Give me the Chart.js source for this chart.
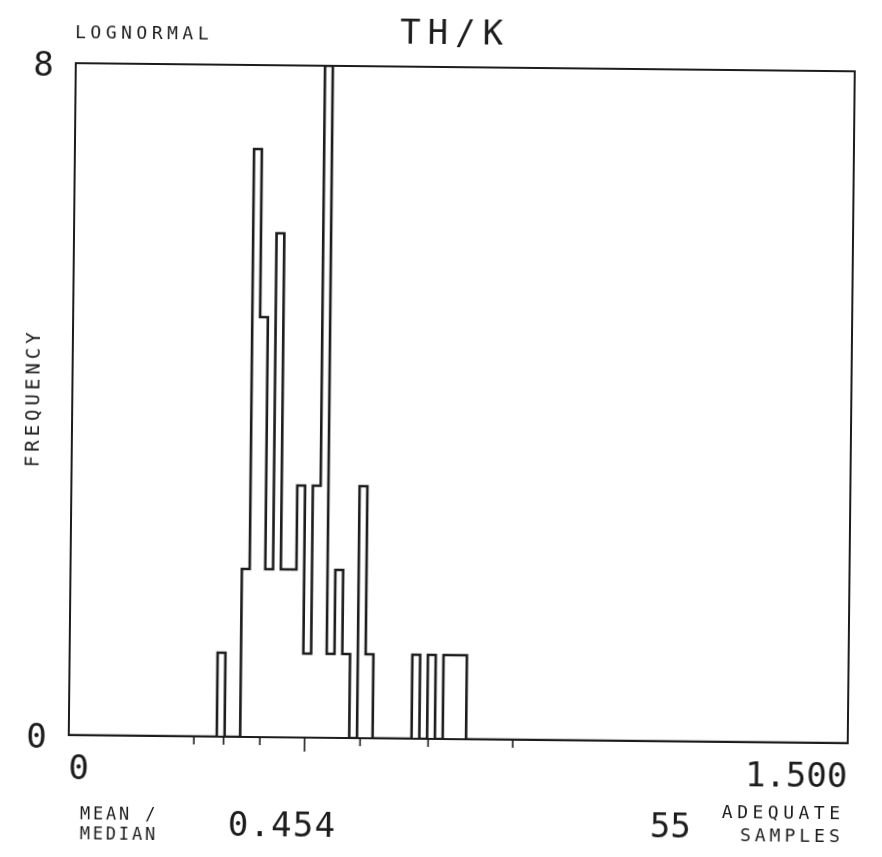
<!DOCTYPE html>
<html>
<head>
<meta charset="utf-8">
<script src="https://cdn.jsdelivr.net/npm/chart.js@4.4.1/dist/chart.umd.min.js"></script>
<style>
  html, body { margin: 0; padding: 0; background: #ffffff; overflow: hidden; }
  #wrap { position: absolute; left: 0; top: 0; width: 882px; height: 857px; transform: rotate(0.6deg); transform-origin: 50% 50%; background: #ffffff; }
  canvas { display: block; }
</style>
</head>
<body>
<div id="wrap"><canvas id="chart" width="882" height="857"></canvas></div>
<script>
// ---------------- data ----------------
const titleText = 'TH/K';
const distributionLabel = 'LOGNORMAL';
const yAxisLabel = 'FREQUENCY';
const statLabel = ['MEAN /', 'MEDIAN'];
const statValue = '0.454';
const sampleCount = 55;
const sampleLabel = ['ADEQUATE', 'SAMPLES'];

const xRange = [0, 1.5];
const xTickValues = [0, 1.5];
const xTickLabels = ['0', '1.500'];
const yRange = [0, 8];
const yTickValues = [0, 8];

const binWidth = 0.015;
// lower edge of each non-empty bin
const binStart = [0.285, 0.330, 0.345, 0.360, 0.375, 0.390, 0.405, 0.420, 0.435, 0.450, 0.465,
                  0.480, 0.495, 0.510, 0.525, 0.555, 0.570, 0.660, 0.690, 0.720, 0.735, 0.750];
// number of samples in each of those bins
const binFrequency = [1, 2, 7, 5, 2, 6, 2, 2, 3, 1, 3,
                      8, 1, 2, 1, 3, 1, 1, 1, 1, 1, 1];

// marks under the x axis: mean/median times powers of the geometric spread
const meanMedian = 0.454;
const markerTicks = [0.241, 0.298, 0.368, 0.454, 0.561, 0.692, 0.855];

// ---------------- build the stepped outline ----------------
// each point's y holds from its x until the next point's x
const outline = [{ x: xRange[0], y: 0 }];
for (let i = 0; i < binStart.length; i++) {
  const s = binStart[i];
  outline.push({ x: s, y: binFrequency[i] });
  const end = s + binWidth;
  const next = binStart[i + 1];
  if (next === undefined || Math.abs(next - end) > 1e-9) outline.push({ x: end, y: 0 });
}
outline.push({ x: xRange[1], y: 0 });

const INK = '#1c1c1c';
const MONO = "'DejaVu Sans Mono', 'Liberation Mono', monospace";

function drawText(ctx, txt, x, y, size, spacing, align) {
  ctx.save();
  ctx.font = size + 'px ' + MONO;
  ctx.fillStyle = INK;
  ctx.textBaseline = 'middle';
  ctx.textAlign = align || 'left';
  try { ctx.letterSpacing = spacing + 'px'; } catch (e) {}
  let dx = 0;
  if (align === 'right') dx = spacing;
  if (align === 'center') dx = spacing / 2;
  ctx.fillText(txt, x + dx, y);
  ctx.restore();
}

const decorPlugin = {
  id: 'decor',
  afterDatasetsDraw(chart) {
    const ctx = chart.ctx;
    const a = chart.chartArea;
    const xs = chart.scales.x;
    ctx.save();
    ctx.strokeStyle = INK;
    ctx.lineWidth = 2;
    ctx.lineJoin = 'miter';
    ctx.strokeRect(a.left, a.top, a.right - a.left, a.bottom - a.top);
    // marker ticks under the axis
    ctx.lineWidth = 1.6;
    markerTicks.forEach(v => {
      const px = xs.getPixelForValue(v);
      const len = Math.abs(v - meanMedian) < 1e-9 ? 14 : 8;
      ctx.beginPath();
      ctx.moveTo(px, a.bottom);
      ctx.lineTo(px, a.bottom + len);
      ctx.stroke();
    });
    ctx.restore();
  },
  afterDraw(chart) {
    const ctx = chart.ctx;
    drawText(ctx, distributionLabel, 71, 37, 18, 4.5, 'left');
    drawText(ctx, titleText, 396, 35, 34, 7, 'left');
    // vertical axis caption
    ctx.save();
    ctx.translate(34, 404);
    ctx.rotate(-Math.PI / 2);
    drawText(ctx, yAxisLabel, 0, 0, 19, 4, 'center');
    ctx.restore();
    drawText(ctx, statLabel[0], 84, 819, 17, 2.8, 'left');
    drawText(ctx, statLabel[1], 84, 839, 17, 2.8, 'left');
    drawText(ctx, statValue, 232, 829, 34, 1.2, 'left');
    drawText(ctx, String(sampleCount), 654, 826, 34, 0, 'left');
    drawText(ctx, sampleLabel[0], 844, 810, 18, 4.5, 'right');
    drawText(ctx, sampleLabel[1], 844, 833, 18, 4, 'right');
  }
};

new Chart(document.getElementById('chart'), {
  type: 'line',
  data: {
    datasets: [{
      data: outline,
      stepped: 'before',
      borderColor: INK,
      borderWidth: 2.6,
      borderJoinStyle: 'miter',
      borderCapStyle: 'butt',
      pointRadius: 0,
      fill: false,
      tension: 0
    }]
  },
  options: {
    responsive: false,
    animation: false,
    devicePixelRatio: 1,
    layout: { padding: { left: 0, top: 67, right: 31, bottom: 68 } },
    plugins: { legend: { display: false }, title: { display: false }, tooltip: { enabled: false } },
    scales: {
      x: {
        type: 'linear',
        min: xRange[0],
        max: xRange[1],
        grid: { display: false, drawTicks: false },
        border: { display: false },
        afterBuildTicks: s => { s.ticks = xTickValues.map(v => ({ value: v })); },
        afterFit: s => { s.height = 50; },
        ticks: {
          align: 'inner',
          padding: 15,
          color: INK,
          font: { family: MONO, size: 34 },
          maxRotation: 0,
          autoSkip: false,
          callback: (v) => xTickLabels[xTickValues.indexOf(v)]
        }
      },
      y: {
        min: yRange[0],
        max: yRange[1],
        grid: { display: false, drawTicks: false },
        border: { display: false },
        afterBuildTicks: s => { s.ticks = yTickValues.map(v => ({ value: v })); },
        afterFit: s => { s.width = 72; },
        ticks: {
          padding: 22,
          labelOffset: 4,
          color: INK,
          font: { family: MONO, size: 34 },
          callback: (v) => String(v)
        }
      }
    }
  },
  plugins: [decorPlugin]
});
</script>
</body>
</html>
